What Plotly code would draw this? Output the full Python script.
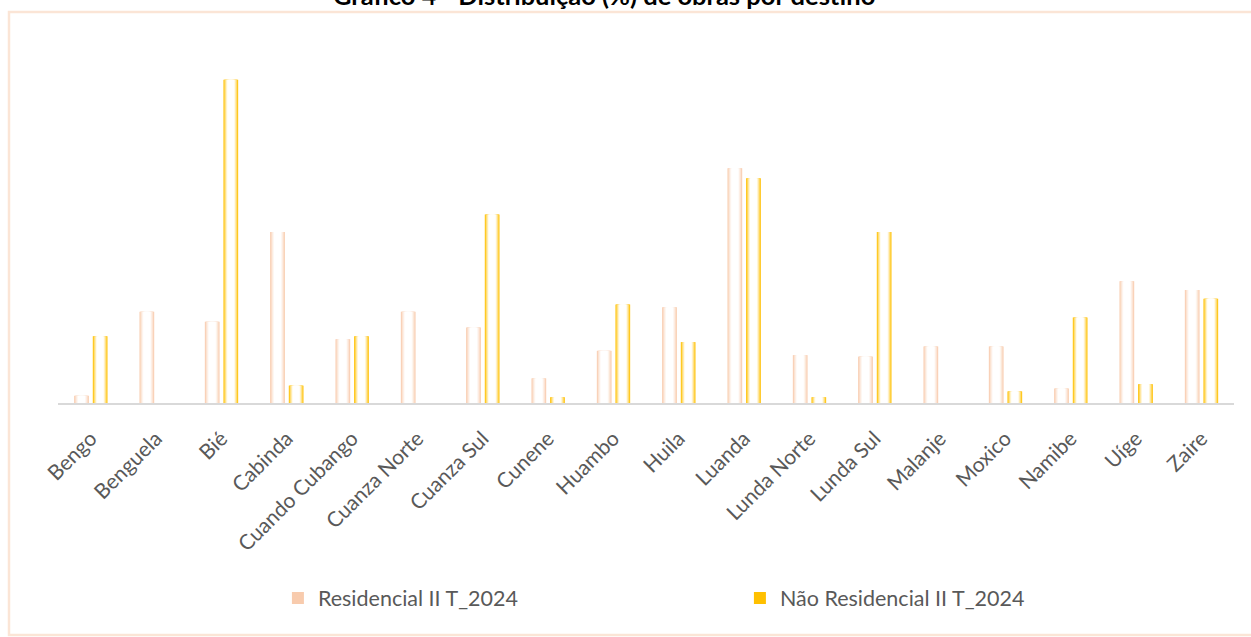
import plotly.graph_objects as go

# Distribution (%) of building works by destination, per province
provincias = ["Bengo", "Benguela", "Bié", "Cabinda", "Cuando Cubango", "Cuanza Norte",
              "Cuanza Sul", "Cunene", "Huambo", "Huila", "Luanda", "Lunda Norte",
              "Lunda Sul", "Malanje", "Moxico", "Namibe", "Uíge", "Zaire"]
residencial = [0.5, 6.3, 5.6, 11.8, 4.4, 6.3, 5.2, 1.7, 3.6, 6.6, 16.2, 3.3,
               3.2, 3.9, 3.9, 1.0, 8.4, 7.8]
nao_residencial = [4.6, 0.0, 22.3, 1.2, 4.6, 0.0, 13.0, 0.4, 6.8, 4.2, 15.5, 0.4,
                   11.8, 0.0, 0.8, 5.9, 1.3, 7.2]

series = [
    ("Residencial II T_2024", residencial, (248, 203, 173), -0.14),
    ("Não Residencial II T_2024", nao_residencial, (255, 192, 0), 0.145),
]

BAR_W = 0.225
LAYERS = 10


def mix(c, t):
    """Blend colour c towards white by fraction t."""
    return "rgb({},{},{})".format(*[round(v + (255 - v) * t) for v in c])


fig = go.Figure()
for name, vals, col, centre in series:
    # stacked narrower, lighter copies give each bar a soft cylinder shading
    for k in range(LAYERS):
        t = k / (LAYERS - 1)
        w = BAR_W * (1 - 0.8 * t)
        fig.add_trace(go.Bar(
            x=provincias, y=vals, name=name,
            width=w, offset=centre - w / 2,
            marker=dict(color=mix(col, min(1.0, (t * 1.6) ** 0.8)), line=dict(width=0)),
            showlegend=(k == 0), legendgroup=name,
            hoverinfo="skip" if k else None,
        ))

fig.update_layout(
    width=1251, height=637,
    margin=dict(l=58, r=17, t=58, b=234),
    paper_bgcolor="white", plot_bgcolor="white",
    barmode="overlay",
    font=dict(family="Lato, 'Open Sans', sans-serif", color="#595959"),
    xaxis=dict(
        type="category", showgrid=False, showline=True, linecolor="#D9D9D9",
        linewidth=2, ticks="", tickangle=-45, tickfont=dict(size=21, color="#595959"),
        ticklabelstandoff=13, range=[-0.5, len(provincias) - 0.5],
    ),
    yaxis=dict(visible=False, range=[0, 23.8]),
    legend=dict(
        orientation="h", x=0.187, xanchor="left", y=-0.565, yanchor="middle",
        font=dict(size=21.5, color="#595959"), entrywidth=417, entrywidthmode="pixels",
        traceorder="normal", bgcolor="rgba(0,0,0,0)",
    ),
    annotations=[dict(
        text="<b>Gráfico 4 - Distribuição (%) de obras por destino</b>",
        xref="paper", yref="paper", x=0.464, y=1.183, xanchor="center", yanchor="middle",
        showarrow=False, font=dict(size=25.5, color="#000000"),
    )],
    shapes=[dict(
        type="rect", xref="paper", yref="paper",
        x0=(9 - 58) / 1176, x1=(1275 - 58) / 1176,
        y0=(403 - 635) / 345, y1=(403 - 12) / 345,
        line=dict(color="#FBE5D6", width=2.5), layer="below",
    )],
)

fig.write_html("out.html")
